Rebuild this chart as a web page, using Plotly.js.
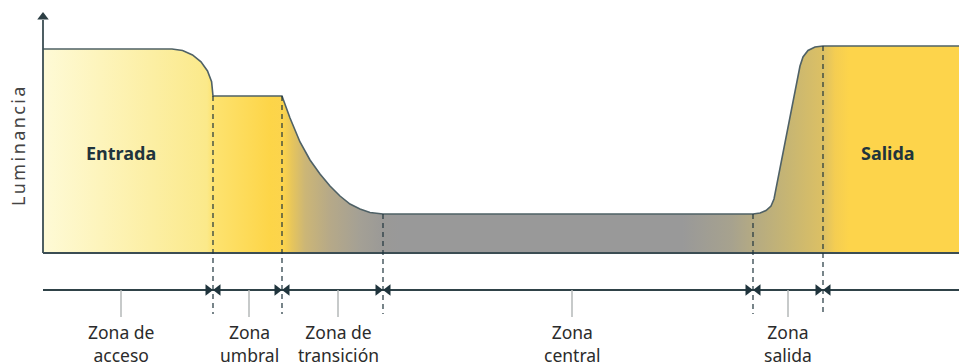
<!DOCTYPE html>
<html>
<head>
<meta charset="utf-8">
<script src="https://cdn.plot.ly/plotly-3.0.1.min.js"></script>
<style>
  html, body { margin: 0; padding: 0; background: #fff; }
  #chart { width: 959px; height: 363px; }
  g.annotation[data-index="0"] text { letter-spacing: 2.4px; }
</style>
</head>
<body>
<div id="chart"></div>
<script>
// Luminance profile along the tunnel (distance units, luminance units)
const profileX = [0, 129, 139.6, 149.5, 158, 164.5, 168.6, 170, 170, 239,
                  247, 257, 267, 277, 287, 297, 307, 317, 327, 340,
                  710, 717, 723, 728, 731, 757, 760, 765, 772, 780, 916];
const profileY = [204, 204, 202.5, 198.1, 191.1, 182, 171.4, 160, 157, 157,
                  135, 111, 93, 79, 67, 57, 49, 44, 40.5, 39,
                  39, 40, 42.5, 47, 54, 187, 196, 202.5, 206, 207, 207];

// Zone boundaries (distance) and the luminance where each dashed line starts
const zoneBounds = [170, 239, 340, 710, 780];
const boundTops  = [157, 157, 39, 39, 207];

// Zone names and their centres
const zoneLabels  = ["Zona de<br>acceso", "Zona<br>umbral", "Zona de<br>transición", "Zona<br>central", "Zona<br>salida"];
const zoneCenters = [78, 206, 295, 529, 745];

// Region names
const regionLabels = ["Entrada", "Salida"];
const regionX = [78, 845];
const regionY = [100, 100];

const axisTitle = "Luminancia";

const xMax = 916, yTop = 233;
const distAxisY = -37, tickBottom = -64, dashBottom = -61;

const dark = "#1f343c";
const traces = [];

// Filled luminance profile with horizontal gradient
traces.push({
  x: profileX, y: profileY, type: "scatter", mode: "lines",
  fill: "tozeroy",
  fillgradient: {
    type: "horizontal", start: 0, stop: xMax,
    colorscale: [
      [0.000, "#fefad6"], [0.179, "#fbe98a"], [0.1856, "#fde370"],
      [0.248, "#fdd548"], [0.262, "#fcd44c"], [0.272, "#e6c55c"],
      [0.286, "#ccb676"], [0.313, "#b6a988"], [0.346, "#a4a095"],
      [0.373, "#9a9997"], [0.390, "#999999"], [0.698, "#999999"],
      [0.752, "#a7a28e"], [0.775, "#b4aa83"], [0.8155, "#c8b672"],
      [0.8515, "#dcc064"], [0.8646, "#f4cd52"], [0.880, "#fdd44b"],
      [1.000, "#fdd44b"]
    ]
  },
  line: { color: "#4f6166", width: 1.6 },
  hoverinfo: "skip", showlegend: false
});

// Baseline and vertical luminance axis
traces.push({ x: [0, xMax], y: [0, 0], mode: "lines", line: { color: "#3b4d53", width: 2.2 }, hoverinfo: "skip", showlegend: false });
traces.push({ x: [0, 0], y: [0, yTop], mode: "lines", line: { color: "#3b4d53", width: 1.8 }, hoverinfo: "skip", showlegend: false });
traces.push({ x: [0], y: [yTop + 3], mode: "markers", marker: { symbol: "triangle-up", size: 10, color: "#2c3e44" }, hoverinfo: "skip", showlegend: false });

// Dashed boundaries
zoneBounds.forEach((b, i) => {
  traces.push({ x: [b, b], y: [boundTops[i], dashBottom], mode: "lines",
    line: { color: dark, width: 1.2, dash: "5px,4px" }, hoverinfo: "skip", showlegend: false });
});

// Distance axis line
traces.push({ x: [0, xMax], y: [distAxisY, distAxisY], mode: "lines", line: { color: "#2f4248", width: 2 }, hoverinfo: "skip", showlegend: false });

// Tick marks at zone centres
zoneCenters.forEach(c => {
  traces.push({ x: [c, c], y: [distAxisY, tickBottom], mode: "lines", line: { color: "#b5b8b8", width: 1.5 }, hoverinfo: "skip", showlegend: false });
});

// Arrowheads on both sides of each boundary
traces.push({ x: zoneBounds.map(b => b - 5), y: zoneBounds.map(() => distAxisY), mode: "markers",
  marker: { symbol: "triangle-right", size: 10, color: dark }, hoverinfo: "skip", showlegend: false });
traces.push({ x: zoneBounds.map(b => b + 5), y: zoneBounds.map(() => distAxisY), mode: "markers",
  marker: { symbol: "triangle-left", size: 10, color: dark }, hoverinfo: "skip", showlegend: false });

const annotations = [];
annotations.push({ x: -25, y: 108, text: axisTitle, textangle: -90, showarrow: false,
  xanchor: "center", yanchor: "middle", font: { family: "Noto Sans", size: 18, color: "#444" } });
regionLabels.forEach((t, i) => {
  annotations.push({ x: regionX[i], y: regionY[i], text: "<b>" + t + "</b>", showarrow: false,
    xanchor: "center", yanchor: "middle", font: { family: "Noto Sans", size: 18, color: "#1f343c" } });
});
zoneLabels.forEach((t, i) => {
  annotations.push({ x: zoneCenters[i], y: -90, text: t, showarrow: false,
    xanchor: "center", yanchor: "middle", font: { family: "Noto Sans", size: 17.5, color: "#2b2b2b" } });
});

const layout = {
  width: 959, height: 363, autosize: false,
  margin: { l: 0, r: 0, t: 0, b: 0, pad: 0 },
  paper_bgcolor: "#fff", plot_bgcolor: "#fff",
  xaxis: { range: [-43, 916], visible: false, fixedrange: true },
  yaxis: { range: [-110, 253], visible: false, fixedrange: true },
  showlegend: false,
  annotations: annotations
};

Plotly.newPlot("chart", traces, layout, { staticPlot: true, displayModeBar: false });
</script>
</body>
</html>
